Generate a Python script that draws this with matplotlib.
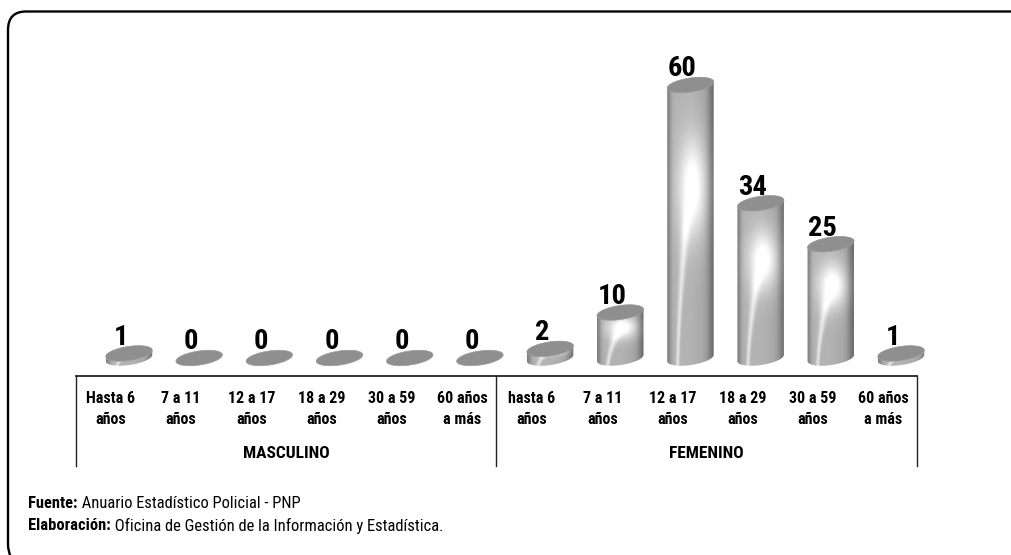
#!/usr/bin/env python3
# -*- coding: utf-8 -*-
import numpy as np
import matplotlib
matplotlib.use("Agg")
import matplotlib.pyplot as plt
from matplotlib.patches import PathPatch
from matplotlib.path import Path
from matplotlib.transforms import blended_transform_factory

plt.rcParams["font.family"] = ["Roboto Condensed", "Liberation Sans", "DejaVu Sans"]

# ---- data ----
values = [1, 0, 0, 0, 0, 0, 2, 10, 60, 34, 25, 1]
tick_labels = ["Hasta 6\naños", "7 a 11\naños", "12 a 17\naños", "18 a 29\naños",
               "30 a 59\naños", "60 años\na más", "hasta 6\naños", "7 a 11\naños",
               "12 a 17\naños", "18 a 29\naños", "30 a 59\naños", "60 años\na más"]
groups = ["MASCULINO", "FEMENINO"]
footer = [("Fuente:", "Anuario Estadístico Policial - PNP"),
          ("Elaboración:", "Oficina de Gestión de la Información y Estadística.")]

W, H = 1011, 555
PX_X0, PX_X11 = 129.0, 901.0     # centre of first and last bar
PX_Y0, PX_Y60 = 358.0, 85.0      # value 0 and value 60
A, B, TILT = 23.5, 7.0, np.radians(8.5)

fig = plt.figure(figsize=(W / 100, H / 100), dpi=100)

# overlay in pixels for frame and table lines
ov = fig.add_axes([0, 0, 1, 1], zorder=1)
ov.set_xlim(0, W); ov.set_ylim(H, 0); ov.axis("off")

ux = (PX_X11 - PX_X0) / 11       # px per category
uy = (PX_Y0 - PX_Y60) / 60       # px per unit
XLO, XHI, YLO, YHI = -0.6, 11.6, -3.0, 66.0
ax = fig.add_axes([(PX_X0 + XLO * ux) / W, 1 - (PX_Y0 - YLO * uy) / H,
                   (XHI - XLO) * ux / W, (YHI - YLO) * uy / H], zorder=2)
ax.patch.set_alpha(0)
ax.axis("off")


def ellipse(cx, cy, t):
    # tilted ellipse, computed in px then returned in data units
    ex = A * np.cos(t) * np.cos(TILT) - B * np.sin(t) * np.sin(TILT)
    ey = A * np.cos(t) * np.sin(TILT) + B * np.sin(t) * np.cos(TILT)
    return cx + ex / ux, cy + ey / uy


def shade(val):
    n_y = max(int(val * uy + 18), 8)
    u = np.linspace(-1, 1, 70)[None, :]
    v = np.linspace(0, 1, n_y)[:, None]      # 0 = bottom
    # grey cylinder, dark rims, right side a bit darker
    base = 0.70 - 0.20 * np.exp(-((u + 1) / 0.16) ** 2) - 0.20 * np.exp(-((u - 1) / 0.25) ** 2)
    base = base - 0.07 * np.clip(u, 0, 1)
    # soft highlight about 0.62 of the height, thin ridge running down to the left
    up = np.clip(v / 0.62, 0, 1)
    cu = -0.55 + 0.50 * up ** 1.5
    spot = np.exp(-((u - 0.10) / 0.62) ** 2 - ((v - 0.62) / 0.17) ** 2)
    fade = np.exp(-(np.clip(v - 0.45, 0, None) / 0.10) ** 2)
    ridge = np.exp(-((u - cu) / (0.07 + 0.22 * up ** 2)) ** 2) * fade
    return np.clip(base + 0.36 * spot + 0.20 * ridge, 0, 1)


for i, val in enumerate(values):
    t = np.linspace(0, 2 * np.pi, 90)
    if val > 0:
        # body: upper half of top ellipse, lower half of bottom ellipse
        t0 = np.arctan2(-B * np.tan(TILT), A)    # where the ellipse is widest in x
        xt, yt = ellipse(i, val, np.linspace(t0, t0 + np.pi, 50))
        xb, yb = ellipse(i, 0, np.linspace(t0 + np.pi, t0 + 2 * np.pi, 50))
        pts = np.r_[np.c_[xt, yt], np.c_[xb, yb], [[xt[0], yt[0]]]]
        body = PathPatch(Path(pts), fc="none", ec="none", transform=ax.transData)
        ax.add_patch(body)
        im = ax.imshow(shade(val), cmap="gray", vmin=0, vmax=1, origin="lower", aspect="auto",
                       interpolation="bilinear", zorder=2,
                       extent=[i - A / ux, i + A / ux, -9 / uy, val + 9 / uy])
        im.set_clip_path(body)
    xe, ye = ellipse(i, val, t)
    ax.fill(xe, ye, fc="#8f8f8f", ec="#9c9c9c", lw=0.5, zorder=3)
    ax.annotate(str(val), (i, val), xytext=(-8 * 0.72, 8.5 * 0.72), textcoords="offset points",
                ha="center", va="baseline", fontsize=20.5, fontweight="bold", color="black",
                zorder=4, annotation_clip=False)

ax.set_xlim(XLO, XHI)
ax.set_ylim(YLO, YHI)

# ---- table under the bars ----
LINE = "#222222"
ov.plot([76, 917], [376, 376], color=LINE, lw=1.3)
for x in [76, 496, 917]:
    ov.plot([x, x], [376, 466], color=LINE, lw=1.0)

trans = blended_transform_factory(ax.transData, ov.transData)
for i, lab in enumerate(tick_labels):
    ax.text(i - 18 / ux, 409, lab, transform=trans, ha="center", va="center", fontsize=11.5,
            fontweight="bold", linespacing=1.58, clip_on=False)
ov.text(286, 454, groups[0], ha="center", va="center", fontsize=12.5, fontweight="bold")
ov.text(706, 454, groups[1], ha="center", va="center", fontsize=12.5, fontweight="bold")

# ---- footer ----
for (head, rest), y in zip(footer, [503, 526]):
    h = ov.text(28, y, head, ha="left", va="center", fontsize=11.9, fontweight="bold")
    ov.annotate(" " + rest, xy=(1, 0.5), xycoords=h, va="center", ha="left", fontsize=11.9)

# ---- frame: top and left only, runs off the image ----
verts = [(W + 2, 11.5), (26, 11.5), (8, 11.5), (8, 30), (8, 544), (8, 552), (11, 557)]
codes = [Path.MOVETO, Path.LINETO, Path.CURVE3, Path.CURVE3, Path.LINETO, Path.CURVE3, Path.CURVE3]
ov.add_patch(PathPatch(Path(verts, codes), fc="none", ec="black", lw=1.7))

fig.savefig("out.png", dpi=100)
